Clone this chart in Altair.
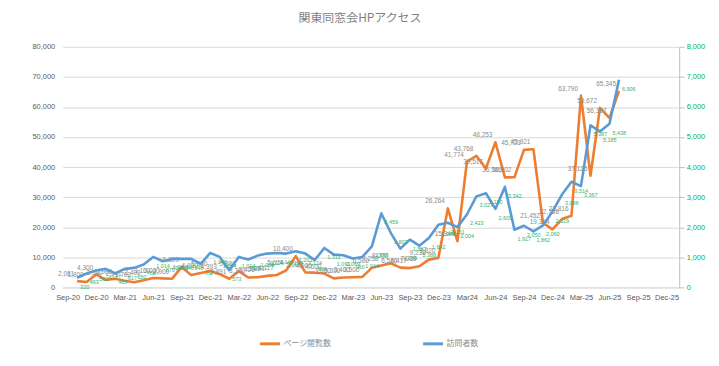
import json
import altair as alt
import pandas as pd

title_text = "関東同窓会HPアクセス"
series_names = ["ページ閲覧数", "訪問者数"]
series_colors = ["#ED7D31", "#5B9BD5"]

x_tick_labels = ["Sep-20", "Dec-20", "Mar-21", "Jun-21", "Sep-21", "Dec-21", "Mar-22",
                 "Jun-22", "Sep-22", "Dec-22", "Mar-23", "Jun-23", "Sep-23", "Dec-23",
                 "Mar24", "Jun-24", "Sep-24", "Dec-24", "Mar-25", "Jun-25", "Sep-25", "Dec-25"]

# month index: 0 = Sep-20 ; data runs Oct-20 .. Jul-25
month_idx = list(range(1, 59))

page_views = [2081, 1800, 4300, 2500, 2900, 2241, 1700, 2400, 3100, 3000,
              2900, 6809, 4088, 4800, 5500, 4393, 2891, 5388, 3300, 3400,
              3834, 4117, 5674, 10400, 5000, 4900, 4600, 3000, 3300, 3400,
              3500, 6500, 7258, 8000, 6586, 6417, 7038, 9238, 9820, 26264,
              15344, 41774, 43768, 39517, 48253, 36586, 36602, 45723, 45921, 21452,
              19314, 22736, 23816, 63790, 37125, 59672, 56307, 65345]

visitors = [320, 463, 562, 617, 463, 617, 650, 760, 1014, 870,
            948, 948, 948, 782, 1146, 1014, 573, 1014, 926, 1058,
            1124, 1146, 1124, 1201, 1124, 909, 1311, 1091, 1069, 960,
            1014, 1366, 2459, 1807, 1289, 1587, 1388, 1642, 2083, 2151,
            2004, 2423, 3027, 3130, 2609, 3342, 1917, 2050, 1862, 2060,
            2519, 3088, 3514, 3367, 5387, 5185, 5438, 6906]

df = pd.DataFrame({"m": month_idx, "pv": page_views, "vis": visitors})

FONT = "Liberation Sans"
JP = "Noto Sans CJK JP"

label_expr = json.dumps(x_tick_labels) + "[round(datum.value / 3)]"

x_enc = alt.X(
    "m:Q",
    scale=alt.Scale(domain=[-0.52, 64.33], nice=False, zero=False),
    axis=alt.Axis(values=list(range(0, 64, 3)), labelExpr=label_expr, title=None,
                  grid=False, ticks=False, domain=True, domainColor="#D9D9D9",
                  labelColor="#595959", labelFont=FONT, labelFontSize=7.5,
                  labelPadding=6, labelOverlap=False),
)

y_left = alt.Y(
    "pv:Q",
    scale=alt.Scale(domain=[0, 80000], nice=False),
    axis=alt.Axis(values=list(range(0, 80001, 10000)), format=",d", title=None,
                  grid=True, gridColor="#D9D9D9", gridWidth=1, ticks=False,
                  domain=False, labelColor="#595959", labelFont=FONT,
                  labelFontSize=7.5, labelPadding=8),
)

y_right = alt.Y(
    "vis:Q",
    scale=alt.Scale(domain=[0, 8000], nice=False),
    axis=alt.Axis(orient="right", values=list(range(0, 8001, 1000)), format=",d",
                  title=None, grid=False, domain=True, domainColor="#BFBFBF",
                  ticks=True, tickColor="#BFBFBF", tickSize=5, labelPadding=2,
                  labelColor="#00B050", labelFont=FONT, labelFontSize=7.5),
)

color_scale = alt.Scale(domain=series_names, range=series_colors)
legend = alt.Legend(
    title=None, orient="none", legendX=197, legendY=287, direction="horizontal",
    symbolType="stroke", symbolSize=400, symbolStrokeWidth=3, labelFont=JP,
    labelFontSize=8, labelColor="#8C8C8C", columnPadding=86, labelOffset=2,
    padding=0,
)

base = alt.Chart(df)

line_pv = base.transform_calculate(series="'ページ閲覧数'").mark_line(
    strokeWidth=2.6, strokeJoin="round"
).encode(x=x_enc, y=y_left,
         color=alt.Color("series:N", scale=color_scale, legend=legend))

text_pv = base.mark_text(
    font=FONT, fontSize=6.5, color="#8C8C8C", dy=-7, dx=-3, align="right"
).encode(x=x_enc, y=y_left, text=alt.Text("pv:Q", format=",d"))

line_vis = base.transform_calculate(series="'訪問者数'").mark_line(
    strokeWidth=2.6, strokeJoin="round"
).encode(x=x_enc, y=y_right,
         color=alt.Color("series:N", scale=color_scale, legend=legend))

text_vis = base.mark_text(
    font=FONT, fontSize=5.5, color="#33B36B", dy=9, dx=3, align="left"
).encode(x=x_enc, y=y_right, text=alt.Text("vis:Q", format=",d"))

layer_pv = alt.layer(line_pv, text_pv)
layer_vis = alt.layer(line_vis, text_vis)

chart = alt.layer(layer_pv, layer_vis).resolve_scale(y="independent").properties(
    width=620, height=242,
    autosize=alt.AutoSizeParams(type="none"),
    padding={"left": 55, "top": 38, "right": 32, "bottom": 70},
    title=alt.TitleParams(text=title_text, anchor="middle", font=JP, fontSize=12,
                          color="#7F7F7F", fontWeight="normal", offset=18, dx=-11),
).configure_view(stroke=None)

chart.save("out.html", embed_options={"renderer": "svg", "actions": False})
